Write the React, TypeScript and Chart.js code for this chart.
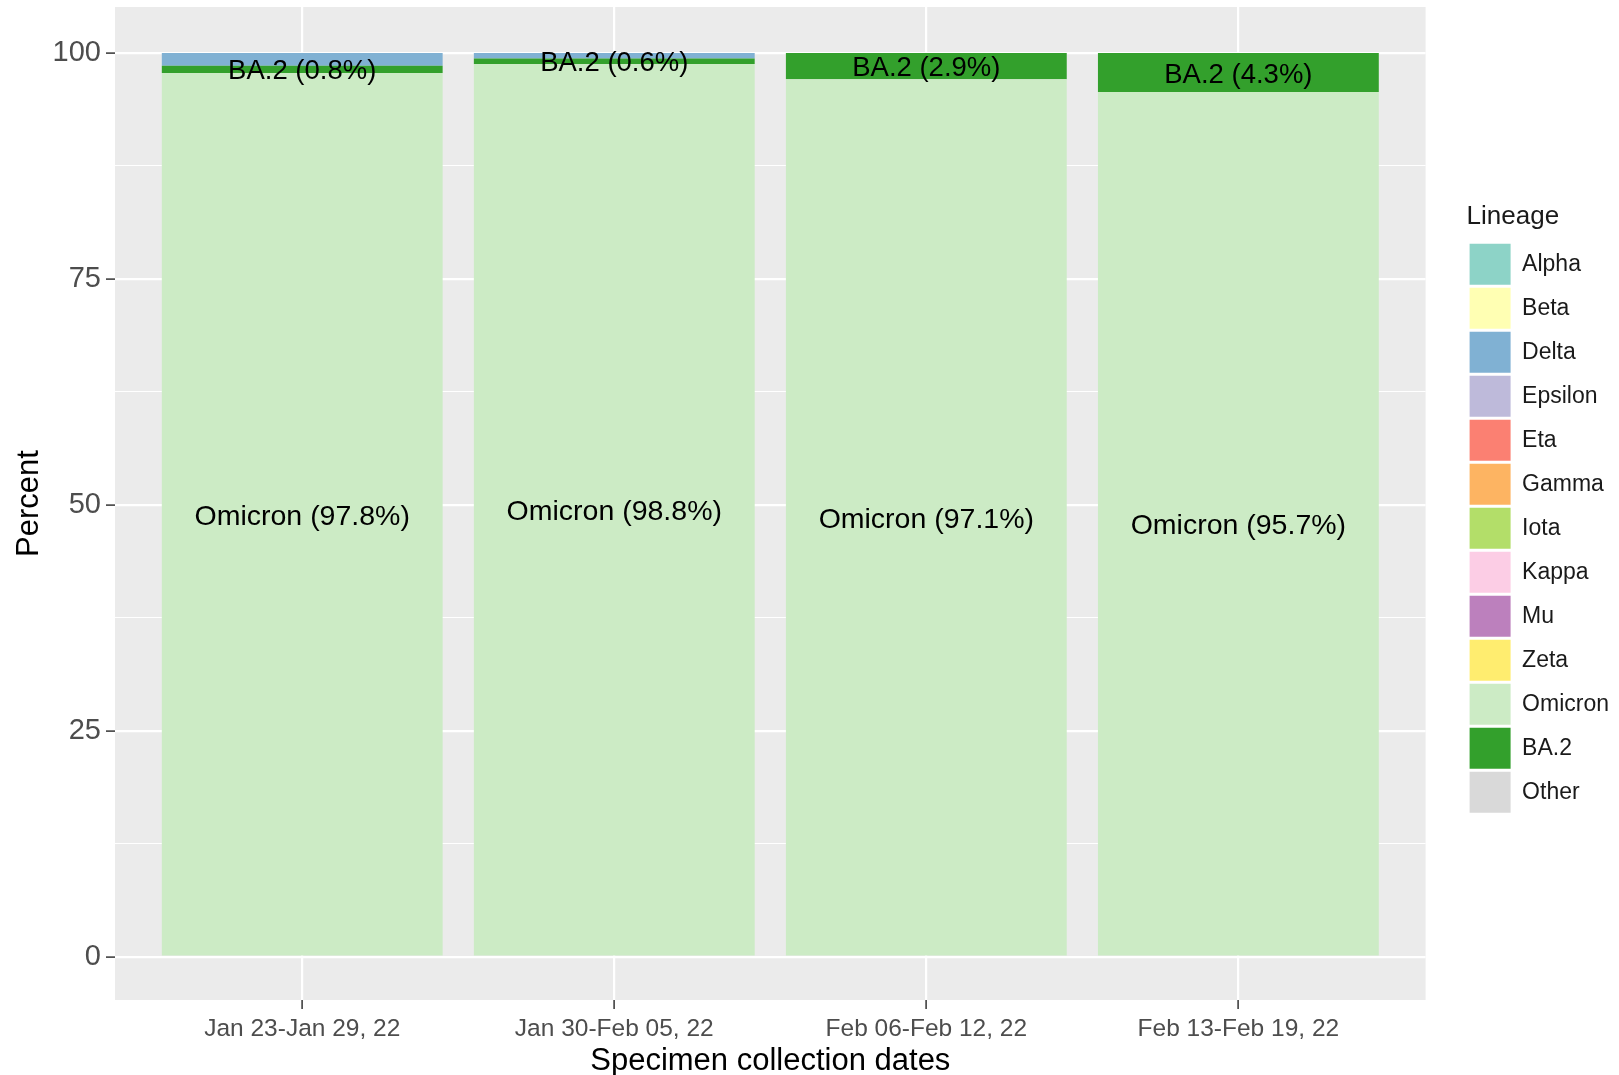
import React, { useEffect, useRef } from "react";
import { Chart, registerables } from "chart.js";

Chart.register(...registerables);

const weeks = ["Jan 23-Jan 29, 22", "Jan 30-Feb 05, 22", "Feb 06-Feb 12, 22", "Feb 13-Feb 19, 22"];
const weekPositions = [1, 2, 3, 4];
const lineages = ["Alpha", "Beta", "Delta", "Epsilon", "Eta", "Gamma", "Iota", "Kappa", "Mu", "Zeta", "Omicron", "BA.2", "Other"];
const lineageColors = ["#8DD3C7", "#FFFFB3", "#80B1D3", "#BEBADA", "#FB8072", "#FDB462", "#B3DE69", "#FCCDE5", "#BC80BD", "#FFED6F", "#CCEBC5", "#33A02C", "#D9D9D9"];
const omicronPct = [97.8, 98.8, 97.1, 95.7];
const ba2Pct = [0.8, 0.6, 2.9, 4.3];
const deltaPct = [1.4, 0.6, 0, 0];
const zeroPct = [0, 0, 0, 0];
const yTicks = [0, 12.5, 25, 37.5, 50, 62.5, 75, 87.5, 100];
const labeledLineages = ["Omicron", "BA.2"];
const stackOrder = ["Omicron", "BA.2", "Delta", "Alpha", "Beta", "Epsilon", "Eta", "Gamma", "Iota", "Kappa", "Mu", "Zeta", "Other"];

const FONT = "'Liberation Sans', Arial, sans-serif";

function valuesFor(name: string): number[] {
  if (name === "Omicron") return omicronPct;
  if (name === "BA.2") return ba2Pct;
  if (name === "Delta") return deltaPct;
  return zeroPct;
}

const panelBg = {
  id: "panelBg",
  beforeDraw(chart: any) {
    const { ctx, chartArea, width, height } = chart;
    ctx.save();
    ctx.fillStyle = "#FFFFFF";
    ctx.fillRect(0, 0, width, height);
    ctx.fillStyle = "#EBEBEB";
    ctx.fillRect(chartArea.left, chartArea.top, chartArea.right - chartArea.left, chartArea.bottom - chartArea.top);
    ctx.restore();
  },
};

const segmentLabels = {
  id: "segmentLabels",
  afterDatasetsDraw(chart: any) {
    const { ctx } = chart;
    ctx.save();
    ctx.fillStyle = "#000000";
    ctx.textAlign = "center";
    ctx.textBaseline = "middle";
    chart.data.datasets.forEach((ds: any, di: number) => {
      if (!labeledLineages.includes(ds.label)) return;
      const meta = chart.getDatasetMeta(di);
      ctx.font = `${ds.label === "Omicron" ? 28.5 : 27.5}px ${FONT}`;
      meta.data.forEach((el: any, i: number) => {
        const v = ds.data[i].y;
        if (!v) return;
        const y = (el.y + el.base) / 2 + 2.5;
        ctx.fillText(`${ds.label} (${v.toFixed(1)}%)`, el.x, y);
      });
    });
    ctx.restore();
  },
};

function zeroPadding(s: any) {
  s.paddingTop = 0;
  s.paddingBottom = 0;
  s.paddingLeft = 0;
  s.paddingRight = 0;
}

export default function App() {
  const ref = useRef<HTMLCanvasElement>(null);

  useEffect(() => {
    if (!ref.current) return;
    Chart.defaults.font.family = FONT;
    const datasets = stackOrder.map((name) => {
      const vals = valuesFor(name);
      return {
        label: name,
        data: weekPositions.map((x, i) => ({ x, y: vals[i] })),
        backgroundColor: lineageColors[lineages.indexOf(name)],
        borderWidth: 0,
        categoryPercentage: 0.9,
        barPercentage: 1,
      };
    });
    const chart = new Chart(ref.current, {
      type: "bar",
      data: { datasets },
      plugins: [panelBg, segmentLabels],
      options: {
        responsive: false,
        animation: false,
        events: [],
        layout: { padding: { top: 7, left: 0, right: 0, bottom: 0 } },
        plugins: {
          tooltip: { enabled: false },
          legend: {
            position: "right",
            align: "start",
            labels: {
              boxWidth: 41,
              boxHeight: 41,
              padding: 3,
              color: "#1A1A1A",
              font: { size: 23, family: FONT },
              sort: (a: any, b: any) => lineages.indexOf(a.text) - lineages.indexOf(b.text),
            },
            title: {
              display: true,
              position: "start",
              text: "Lineage",
              color: "#1A1A1A",
              font: { size: 26, family: FONT },
              padding: { top: 197, bottom: 5.5 },
            },
          },
        },
        scales: {
          x: {
            type: "linear",
            min: 0.4,
            max: 4.6,
            stacked: true,
            offset: false,
            afterBuildTicks: (s: any) => {
              s.ticks = weekPositions.map((v) => ({ value: v }));
            },
            ticks: {
              callback: (v: any) => weeks[weekPositions.indexOf(Number(v))] ?? "",
              color: "#4D4D4D",
              font: { size: 24.5, family: FONT },
              padding: 6,
              maxRotation: 0,
              autoSkip: false,
            },
            grid: { offset: false, color: "#FFFFFF", lineWidth: 2.2, tickLength: 9, tickColor: "#333333", tickWidth: 1.5 },
            border: { display: false },
            title: {
              display: true,
              text: "Specimen collection dates",
              color: "#000000",
              font: { size: 31, family: FONT, lineHeight: 1 },
              padding: { top: 0, bottom: -2 },
            },
            afterFit: (s: any) => {
              s.height = 75;
              zeroPadding(s);
            },
          },
          y: {
            type: "linear",
            min: -4.8,
            max: 105.1,
            stacked: true,
            afterBuildTicks: (s: any) => {
              s.ticks = yTicks.map((v) => ({ value: v }));
            },
            ticks: {
              callback: (v: any) => (Number(v) % 25 === 0 ? String(v) : ""),
              color: "#4D4D4D",
              font: { size: 29, family: FONT },
              padding: 5,
              autoSkip: false,
            },
            grid: {
              color: "#FFFFFF",
              lineWidth: (c: any) => (c.tick && c.tick.value % 25 === 0 ? 2.2 : 1.1),
              tickLength: 9,
              tickColor: (c: any) => (c.tick && c.tick.value % 25 === 0 ? "#333333" : "rgba(0,0,0,0)"),
              tickWidth: 1.5,
            },
            border: { display: false },
            title: {
              display: true,
              text: "Percent",
              color: "#000000",
              font: { size: 31, family: FONT, lineHeight: 1 },
              padding: { top: 14, bottom: 0 },
            },
            afterFit: (s: any) => {
              s.width = 115;
              zeroPadding(s);
            },
          },
          gap: {
            type: "linear",
            position: "right",
            display: true,
            grid: { display: false, drawTicks: false },
            ticks: { display: false },
            border: { display: false },
            afterFit: (s: any) => {
              s.width = 41;
              zeroPadding(s);
            },
          },
        },
      } as any,
    });
    return () => chart.destroy();
  }, []);

  return (
    <div style={{ position: "absolute", left: 0, top: 0, width: 1619, height: 1075 }}>
      <canvas ref={ref} width={1619} height={1075} style={{ display: "block" }} />
    </div>
  );
}
